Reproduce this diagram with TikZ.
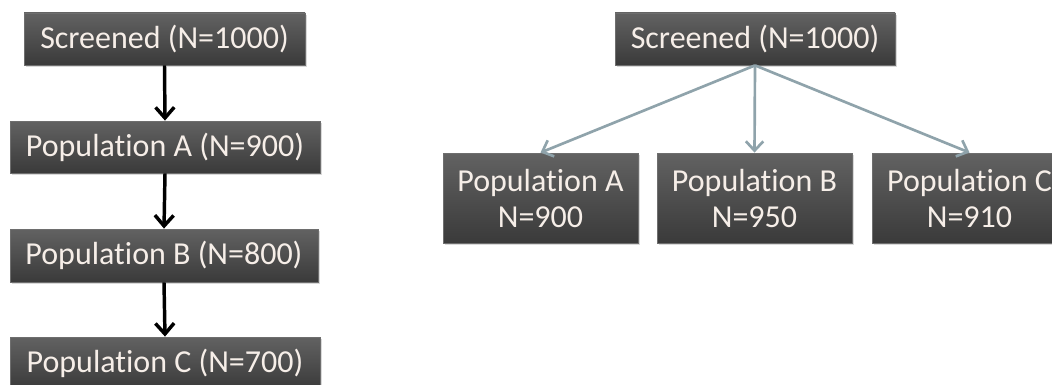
\documentclass[tikz,border=0pt]{standalone}
\usepackage{fontspec}
\setmainfont[Ligatures={NoCommon}]{Carlito}
\usetikzlibrary{arrows.meta,shadows}

\definecolor{boxtop}{RGB}{98,98,98}
\definecolor{boxbot}{RGB}{58,58,58}
\definecolor{boxtext}{RGB}{246,238,232}
\definecolor{linkgray}{RGB}{143,163,171}

\tikzset{
  popbox/.style={draw={rgb,255:red,110;green,110;blue,110}, line width=0.6pt, top color=boxtop, bottom color=boxbot,
    text=boxtext, font=\fontsize{24}{27}\selectfont, align=center, inner sep=0pt,
    drop shadow={shadow xshift=1.2pt, shadow yshift=-1.5pt, opacity=0.3}},
  blackarrow/.style={line width=2.6pt, -{Straight Barb[length=8pt,width=14pt,line width=2.6pt]}},
  grayarrow/.style={draw=linkgray, line width=2pt, -{Straight Barb[length=7pt,width=13pt,line width=2pt]}}
}

\begin{document}
\begin{tikzpicture}[x=0.75pt,y=0.75pt,yscale=-1,xscale=1]
    \useasboundingbox (0,0) rectangle (1052,385);

    % Left column: sequential
    \node [popbox, minimum width=210.75pt, minimum height=39pt] (scrL) at (164.5,39) {Screened (N=1000)};
    \node [popbox, minimum width=232.5pt, minimum height=39pt] (popA) at (165,147) {Population A (N=900)};
    \node [popbox, minimum width=231pt, minimum height=39.75pt] (popB) at (164,255.5) {Population B (N=800)};
    \node [popbox, minimum width=232.5pt, minimum height=39pt] (popC) at (165,363) {Population C (N=700)};

    \draw [blackarrow] (scrL.south) -- (popA.north);
    \draw [blackarrow] (popA.south) -- (popB.north);
    \draw [blackarrow] (popB.south) -- (popC.north);

    % Right column: parallel
    \node [popbox, minimum width=210pt, minimum height=39pt] (scrR) at (755,39) {Screened (N=1000)};
    \node [popbox, minimum width=146.25pt, minimum height=67.5pt] (parA) at (540.5,198) {Population A\\N=900};
    \node [popbox, minimum width=146.25pt, minimum height=67.5pt] (parB) at (754.5,198) {Population B\\N=950};
    \node [popbox, minimum width=146.25pt, minimum height=67.5pt] (parC) at (969.5,198) {Population C\\N=910};

    \draw [grayarrow] (scrR.south) -- (parA.north);
    \draw [grayarrow] (scrR.south) -- (parB.north);
    \draw [grayarrow] (scrR.south) -- (parC.north);
\end{tikzpicture}
\end{document}
